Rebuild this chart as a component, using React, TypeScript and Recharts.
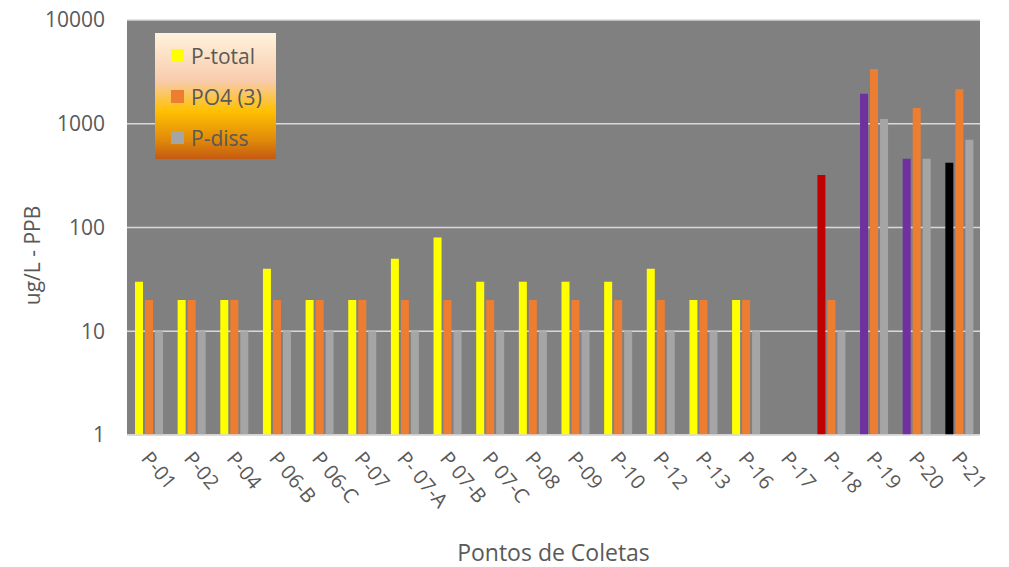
import { Bar, BarChart, CartesianGrid, Cell, Label, XAxis, YAxis } from "recharts";

const FONT = "'Open Sans', sans-serif";
const INK = "#595959";

const categories = [
  "P-01", "P-02", "P-04", "P 06-B", "P 06-C", "P-07", "P- 07-A", "P 07-B", "P 07-C", "P-08",
  "P-09", "P-10", "P-12", "P-13", "P-16", "P-17", "P- 18", "P-19", "P-20", "P-21",
];
const pTotal = [30, 20, 20, 40, 20, 20, 50, 80, 30, 30, 30, 30, 40, 20, 20, null, 320, 1950, 460, 420];
const po4 = [20, 20, 20, 20, 20, 20, 20, 20, 20, 20, 20, 20, 20, 20, 20, null, 20, 3370, 1420, 2150];
const pDiss = [10, 10, 10, 10, 10, 10, 10, 10, 10, 10, 10, 10, 10, 10, 10, null, 10, 1110, 460, 700];
// P-total bars change colour for the last points
const pTotalColors = [
  "#FFFF00", "#FFFF00", "#FFFF00", "#FFFF00", "#FFFF00", "#FFFF00", "#FFFF00", "#FFFF00", "#FFFF00", "#FFFF00",
  "#FFFF00", "#FFFF00", "#FFFF00", "#FFFF00", "#FFFF00", "#FFFF00", "#C00000", "#7030A0", "#7030A0", "#000000",
];
const yTicks = [1, 10, 100, 1000, 10000];

const series = [
  { key: "pTotal", name: "P-total", color: "#FFFF00" },
  { key: "po4", name: "PO4 (3)", color: "#ED7D31" },
  { key: "pDiss", name: "P-diss", color: "#A5A5A5" },
];

const data = categories.map((c, i) => ({ name: c, pTotal: pTotal[i], po4: po4[i], pDiss: pDiss[i] }));

function XTick({ x, y, payload }: any) {
  return (
    <text
      x={x - 8}
      y={y + 16}
      transform={`rotate(50, ${x - 8}, ${y + 16})`}
      textAnchor="start"
      fill={INK}
      fontSize={20}
      fontFamily={FONT}
    >
      {payload.value}
    </text>
  );
}

function LegendBox() {
  return (
    <div
      style={{
        position: "absolute",
        left: 155,
        top: 33,
        width: 121,
        height: 126,
        boxSizing: "border-box",
        padding: "2px 0 0 16px",
        background: "linear-gradient(180deg, #FFF3DC 0%, #F8CBAD 38%, #FFC000 62%, #E08A0A 85%, #C55A11 100%)",
        fontFamily: FONT,
        fontSize: 21,
        color: INK,
        whiteSpace: "nowrap",
      }}
    >
      {series.map((s) => (
        <div key={s.key} style={{ display: "flex", alignItems: "center", height: 41 }}>
          <span style={{ width: 13, height: 13, background: s.color, marginRight: 7, flexShrink: 0 }} />
          {s.name}
        </div>
      ))}
    </div>
  );
}

export default function App() {
  return (
    <div style={{ position: "absolute", left: 0, top: 0, width: 1009, height: 567, background: "#fff" }}>
      <BarChart
        width={1009}
        height={567}
        data={data}
        margin={{ top: 20, right: 29, bottom: 0, left: 0 }}
        barCategoryGap={8}
        barGap={2}
      >
        <CartesianGrid vertical={false} fill="#808080" stroke="#D9D9D9" strokeWidth={1.5} />
        <XAxis
          dataKey="name"
          interval={0}
          height={132}
          tick={<XTick />}
          tickLine={false}
          axisLine={{ stroke: "#D9D9D9", strokeWidth: 1.5 }}
        >
          <Label value="Pontos de Coletas" position="insideBottom" offset={6} fill={INK} fontSize={23} fontFamily={FONT} />
        </XAxis>
        <YAxis
          scale="log"
          domain={[1, 10000]}
          ticks={yTicks}
          width={127}
          tickLine={false}
          axisLine={false}
          tickMargin={16}
          tick={{ fill: INK, fontSize: 21, fontFamily: FONT }}
        >
          <Label
            content={({ viewBox }: any) => (
              <text
                x={viewBox.x + 40}
                y={viewBox.y + viewBox.height / 2 + 28}
                transform={`rotate(-90, ${viewBox.x + 40}, ${viewBox.y + viewBox.height / 2 + 28})`}
                textAnchor="middle"
                fill={INK}
                fontSize={21}
                fontFamily={FONT}
              >
                ug/L - PPB
              </text>
            )}
          />
        </YAxis>
        <Bar dataKey="pTotal" name="P-total" fill="#FFFF00" isAnimationActive={false}>
          {pTotalColors.map((c, i) => (
            <Cell key={i} fill={c} />
          ))}
        </Bar>
        <Bar dataKey="po4" name="PO4 (3)" fill="#ED7D31" isAnimationActive={false} />
        <Bar dataKey="pDiss" name="P-diss" fill="#A5A5A5" isAnimationActive={false} />
      </BarChart>
      <LegendBox />
    </div>
  );
}
